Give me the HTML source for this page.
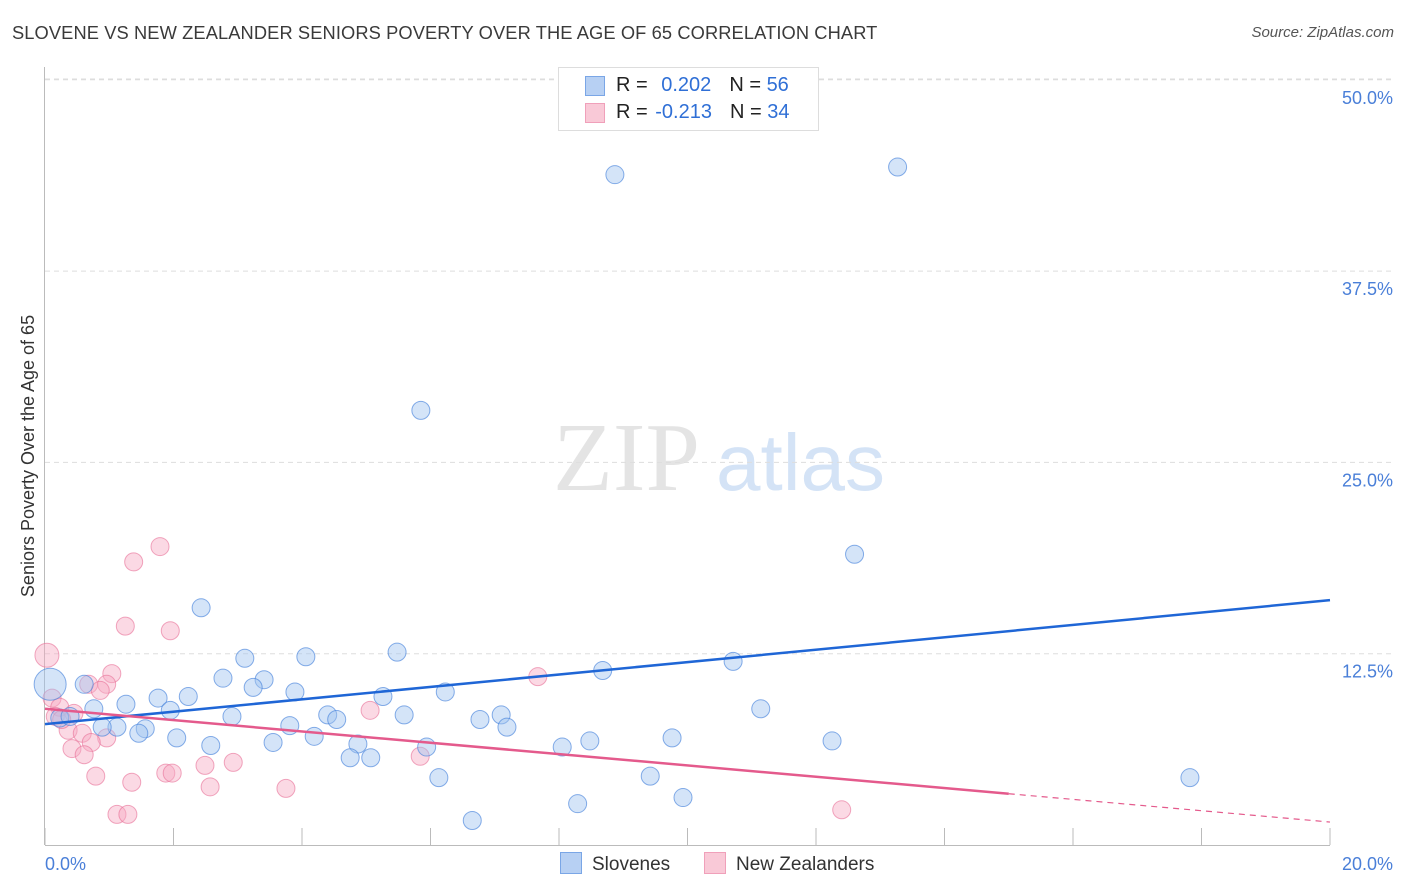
<!DOCTYPE html>
<html><head><meta charset="utf-8">
<style>
body{margin:0;background:#fff;font-family:"Liberation Sans",sans-serif;}
#wrap{position:relative;width:1406px;height:892px;overflow:hidden;}
.t{position:absolute;white-space:nowrap;}
</style></head>
<body>
<div id="wrap">
<div class="t" style="left:12px;top:22px;font-size:18.3px;letter-spacing:0.1px;color:#3a3a3a;">SLOVENE VS NEW ZEALANDER SENIORS POVERTY OVER THE AGE OF 65 CORRELATION CHART</div>
<div class="t" style="right:12px;top:24px;font-size:15px;color:#555;font-style:italic;">Source: ZipAtlas.com</div>
<svg id="svg" width="1406" height="892" style="position:absolute;left:0;top:0"></svg>
</div>
<script>
const xTicks=[0,2,4,6,8,10,12,14,16,18,20];
const yTicks=[12.5,25,37.5,50];
const yTickLabels=["12.5%","25.0%","37.5%","50.0%"];
const blueX=[8.87,13.27,5.85,12.60,2.43,3.11,4.06,5.48,8.68,10.71,0.61,2.77,3.41,3.24,3.89,1.76,2.23,5.26,6.23,1.26,0.76,1.95,2.91,4.40,4.54,5.59,7.10,6.77,7.19,11.14,1.12,1.56,1.46,3.81,4.19,2.05,2.58,3.55,4.87,5.94,9.76,8.48,8.05,12.25,4.75,5.07,6.13,9.42,17.82,8.29,9.93,6.65,0.23,0.39,0.89,0.08];
const blueY=[43.8,44.3,28.4,19.0,15.5,12.2,12.3,12.6,11.4,12.0,10.5,10.9,10.8,10.3,10.0,9.6,9.7,9.7,10.0,9.2,8.9,8.8,8.4,8.5,8.2,8.5,8.5,8.2,7.7,8.9,7.7,7.6,7.3,7.8,7.1,7.0,6.5,6.7,6.6,6.4,7.0,6.8,6.4,6.8,5.7,5.7,4.4,4.5,4.4,2.7,3.1,1.6,8.3,8.4,7.7,10.5];
const pinkX=[1.79,1.38,1.25,1.95,0.03,7.67,1.04,0.68,0.96,0.86,0.11,0.23,0.45,5.06,0.36,0.58,0.96,0.72,0.42,0.61,5.84,0.79,1.35,1.88,1.98,2.49,2.93,2.57,3.75,1.12,1.29,12.40,0.16,0.26];
const pinkY=[19.5,18.5,14.3,14.0,12.4,11.0,11.2,10.5,10.5,10.1,9.6,9.0,8.6,8.8,7.5,7.3,7.0,6.7,6.3,5.9,5.8,4.5,4.1,4.7,4.7,5.2,5.4,3.8,3.7,2.0,2.0,2.3,8.4,8.2];
const blueSize=Array(56).fill(9);blueSize[55]=16;
const pinkSize=Array(34).fill(9);pinkSize[4]=12;
const blueTrend=[7.9,16.0];
const pinkTrend=[8.9,1.5];
const pinkSolidEnd=15.0;

const X0=45,X1=1330,Y0=845,PPY=191.3/12.5;
const sx=v=>X0+(X1-X0)*v/20;
const sy=v=>Y0-v*PPY;
const svg=document.getElementById('svg');
const NS='http://www.w3.org/2000/svg';
function mk(tag,attrs,parent){const e=document.createElementNS(NS,tag);for(const k in attrs)e.setAttribute(k,attrs[k]);(parent||svg).appendChild(e);return e;}

const wm=mk('text',{x:553,y:490,'font-size':98,fill:'#e4e4e4','font-family':'Liberation Serif, serif'});wm.textContent='ZIP';


const wm2=mk('text',{x:716,y:490,'font-size':80,fill:'#d4e3f6','font-family':'Liberation Sans, sans-serif'});wm2.textContent='atlas';



mk('line',{x1:45,y1:79,x2:1393,y2:79,stroke:'#ddd','stroke-dasharray':'5,4'});
yTicks.forEach((t,i)=>{
  const y=sy(t);
  const g=mk('line',{x1:45,y1:y,x2:1393,y2:y,stroke:'#ddd','stroke-dasharray':'5,4'});
  
  
  const tx=mk('text',{x:1393,y:y+24,'text-anchor':'end','font-size':18,fill:'#4a7fd8','font-family':'Liberation Sans, sans-serif'});
  tx.textContent=yTickLabels[i];
  
  
});
const ya=mk('line',{x1:44.5,y1:67,x2:44.5,y2:845,stroke:'#bbb'});


const xa=mk('line',{x1:45,y1:845.5,x2:1330,y2:845.5,stroke:'#bbb'});


xTicks.forEach(t=>{
  const tk=mk('line',{x1:sx(t),y1:828,x2:sx(t),y2:845,stroke:'#bbb'});
  
  
});
const xl0=mk('text',{x:45,y:870,'font-size':18,fill:'#4a7fd8','font-family':'Liberation Sans, sans-serif'});xl0.textContent='0.0%';


const xl1=mk('text',{x:1393,y:870,'text-anchor':'end','font-size':18,fill:'#4a7fd8','font-family':'Liberation Sans, sans-serif'});xl1.textContent='20.0%';


const yt=mk('text',{x:0,y:0,transform:'translate(34,456) rotate(-90)','text-anchor':'middle','font-size':18,fill:'#333','font-family':'Liberation Sans, sans-serif'});
yt.textContent='Seniors Poverty Over the Age of 65';



pinkX.forEach((v,i)=>{
  const c=mk('circle',{cx:sx(v),cy:sy(pinkY[i]),r:pinkSize[i],fill:'rgba(246,170,195,0.45)',stroke:'rgba(232,110,150,0.6)','stroke-width':1});
  
  
});
blueX.forEach((v,i)=>{
  const c=mk('circle',{cx:sx(v),cy:sy(blueY[i]),r:blueSize[i],fill:'rgba(160,195,240,0.45)',stroke:'rgba(70,130,220,0.65)','stroke-width':1});
  
  
});
const bt=mk('line',{x1:sx(0),y1:sy(blueTrend[0]),x2:sx(20),y2:sy(blueTrend[1]),stroke:'#1f66d6','stroke-width':2.5});


const pm=pinkTrend[0]+(pinkTrend[1]-pinkTrend[0])*pinkSolidEnd/20;
const pt=mk('line',{x1:sx(0),y1:sy(pinkTrend[0]),x2:sx(pinkSolidEnd),y2:sy(pm),stroke:'#e45a8c','stroke-width':2.5});


const pd=mk('line',{x1:sx(pinkSolidEnd),y1:sy(pm),x2:sx(20),y2:sy(pinkTrend[1]),stroke:'#e45a8c','stroke-width':1.2,'stroke-dasharray':'6,5'});


</script>
<div class="t" style="left:558px;top:67px;width:259px;height:62px;border:1px solid #ddd;background:#fff;font-size:20px;">
  <div style="position:absolute;left:26px;top:8px;width:18px;height:18px;background:#b7d0f3;border:1px solid #7aa6e6;"></div>
  <div class="t" style="left:57px;top:6px;color:#222;">R = <span style="color:#2f6fd6;margin-left:8px">0.202</span><span style="margin-left:18px">N = </span><span style="color:#2f6fd6">56</span></div>
  <div style="position:absolute;left:26px;top:35px;width:18px;height:18px;background:#f9c9d7;border:1px solid #f0a0ba;"></div>
  <div class="t" style="left:57px;top:33px;color:#222;">R = <span style="color:#2f6fd6;margin-left:2px">-0.213</span><span style="margin-left:18px">N = </span><span style="color:#2f6fd6">34</span></div>
</div>
<div class="t" style="left:560px;top:852px;font-size:19px;color:#333;"><span style="display:inline-block;width:20px;height:20px;background:#b7d0f3;border:1px solid #7aa6e6;vertical-align:-4px;margin-right:10px"></span>Slovenes</div>
<div class="t" style="left:704px;top:852px;font-size:19px;color:#333;"><span style="display:inline-block;width:20px;height:20px;background:#f9c9d7;border:1px solid #f0a0ba;vertical-align:-4px;margin-right:10px"></span>New Zealanders</div>
</body></html>
